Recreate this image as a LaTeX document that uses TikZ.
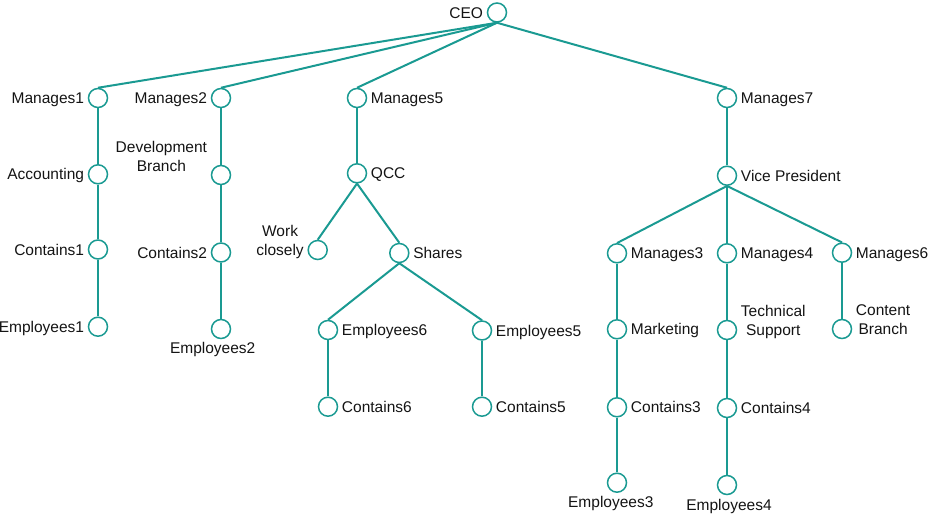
\documentclass[tikz,border=0pt]{standalone}
\usepackage{fontspec}
\setmainfont{Liberation Sans}
\definecolor{tealc}{RGB}{26,154,146}
\definecolor{txt}{RGB}{20,20,20}
\begin{document}
\begin{tikzpicture}[x=1pt,y=-1pt,
  c/.style={circle, draw=tealc, line width=1.5pt, minimum size=19pt, inner sep=0pt},
  l/.style={font=\fontsize{15.5}{19}\selectfont, text=txt, inner sep=3.5pt, align=center, text height=11.2pt, text depth=0pt},
  e/.style={draw=tealc, line width=2pt}]
\useasboundingbox (0,0) rectangle (931,514);
% nodes
\node[c] (ceo) at (497,12.5) {};
\node[c] (m1) at (98,98) {};
\node[c] (m2) at (221,98) {};
\node[c] (m5) at (357,98) {};
\node[c] (m7) at (727,98) {};
\node[c] (acc) at (98,174.3) {};
\node[c] (dev) at (221,175) {};
\node[c] (qcc) at (357,173.3) {};
\node[c] (vp) at (727,175.7) {};
\node[c] (c1) at (98,249.5) {};
\node[c] (c2) at (221,252.5) {};
\node[c] (wc) at (317.7,250) {};
\node[c] (sh) at (399.3,253) {};
\node[c] (m3) at (617,253.3) {};
\node[c] (m4) at (727,253.3) {};
\node[c] (m6) at (842,252.7) {};
\node[c] (e1) at (98,326.7) {};
\node[c] (e2) at (221,329) {};
\node[c] (e6) at (328,330) {};
\node[c] (e5) at (482,330.5) {};
\node[c] (mk) at (617,329.3) {};
\node[c] (ts) at (727,330) {};
\node[c] (cb) at (842,329) {};
\node[c] (c6) at (328,406.7) {};
\node[c] (c5) at (482,406.7) {};
\node[c] (c3) at (617,407.3) {};
\node[c] (c4) at (727,408) {};
\node[c] (e3) at (617,482.7) {};
\node[c] (e4) at (727,485) {};
% labels
\node[l, anchor=east] (tceo) at (ceo.west) {CEO};
\node[l, anchor=east] (tm1) at (m1.west) {Manages1};
\node[l, anchor=east] (tm2) at (m2.west) {Manages2};
\node[l, anchor=west] (tm5) at (m5.east) {Manages5};
\node[l, anchor=west] (tm7) at (m7.east) {Manages7};
\node[l, anchor=east] (tacc) at (acc.west) {Accounting};
\node[l, anchor=east] (tdev) at ([yshift=9pt]dev.west) {Development\\Branch};
\node[l, anchor=west] (tqcc) at (qcc.east) {QCC};
\node[l, anchor=west] (tvp) at (vp.east) {Vice President};
\node[l, anchor=east] (tc1) at (c1.west) {Contains1};
\node[l, anchor=east] (tc2) at (c2.west) {Contains2};
\node[l, anchor=east] (twc) at (wc.west) {Work\\closely};
\node[l, anchor=west] (tsh) at (sh.east) {Shares};
\node[l, anchor=west] (tm3) at (m3.east) {Manages3};
\node[l, anchor=west] (tm4) at (m4.east) {Manages4};
\node[l, anchor=west] (tm6) at (m6.east) {Manages6};
\node[l, anchor=east] (te1) at (e1.west) {Employees1};
\node[l] (te2) at (212.7,348) {Employees2};
\node[l, anchor=west] (te6) at (e6.east) {Employees6};
\node[l, anchor=west] (te5) at (e5.east) {Employees5};
\node[l, anchor=west] (tmk) at (mk.east) {Marketing};
\node[l, anchor=west] (tts) at (ts.east) {Technical\\Support};
\node[l, anchor=west] (tcb) at (cb.east) {Content\\Branch};
\node[l, anchor=west] (tc6) at (c6.east) {Contains6};
\node[l, anchor=west] (tc5) at (c5.east) {Contains5};
\node[l, anchor=west] (tc3) at (c3.east) {Contains3};
\node[l, anchor=west] (tc4) at (c4.east) {Contains4};
\node[l] (te3) at (610.8,502) {Employees3};
\node[l] (te4) at (729,505) {Employees4};
% edges
\draw[e] (ceo.south) -- (m1.north);
\draw[e] (ceo.south) -- (m2.north);
\draw[e] (ceo.south) -- (m5.north);
\draw[e] (ceo.south) -- (m7.north);
\draw[e] (m1) -- (acc);
\draw[e] (acc) -- (c1);
\draw[e] (c1) -- (e1);
\draw[e] (m2) -- (dev);
\draw[e] (dev) -- (c2);
\draw[e] (c2) -- (e2);
\draw[e] (m5) -- (qcc);
\draw[e] (qcc.south) -- (wc.north);
\draw[e] (qcc.south) -- (sh.north);
\draw[e] (sh.south) -- (e6.north);
\draw[e] (sh.south) -- (e5.north);
\draw[e] (e6) -- (c6);
\draw[e] (e5) -- (c5);
\draw[e] (m7) -- (vp);
\draw[e] (vp.south) -- (m3.north);
\draw[e] (vp.south) -- (m4.north);
\draw[e] (vp.south) -- (m6.north);
\draw[e] (m3) -- (mk);
\draw[e] (mk) -- (c3);
\draw[e] (c3) -- (e3);
\draw[e] (m4) -- (ts);
\draw[e] (ts) -- (c4);
\draw[e] (c4) -- (e4);
\draw[e] (m6) -- (cb);
\end{tikzpicture}
\end{document}
